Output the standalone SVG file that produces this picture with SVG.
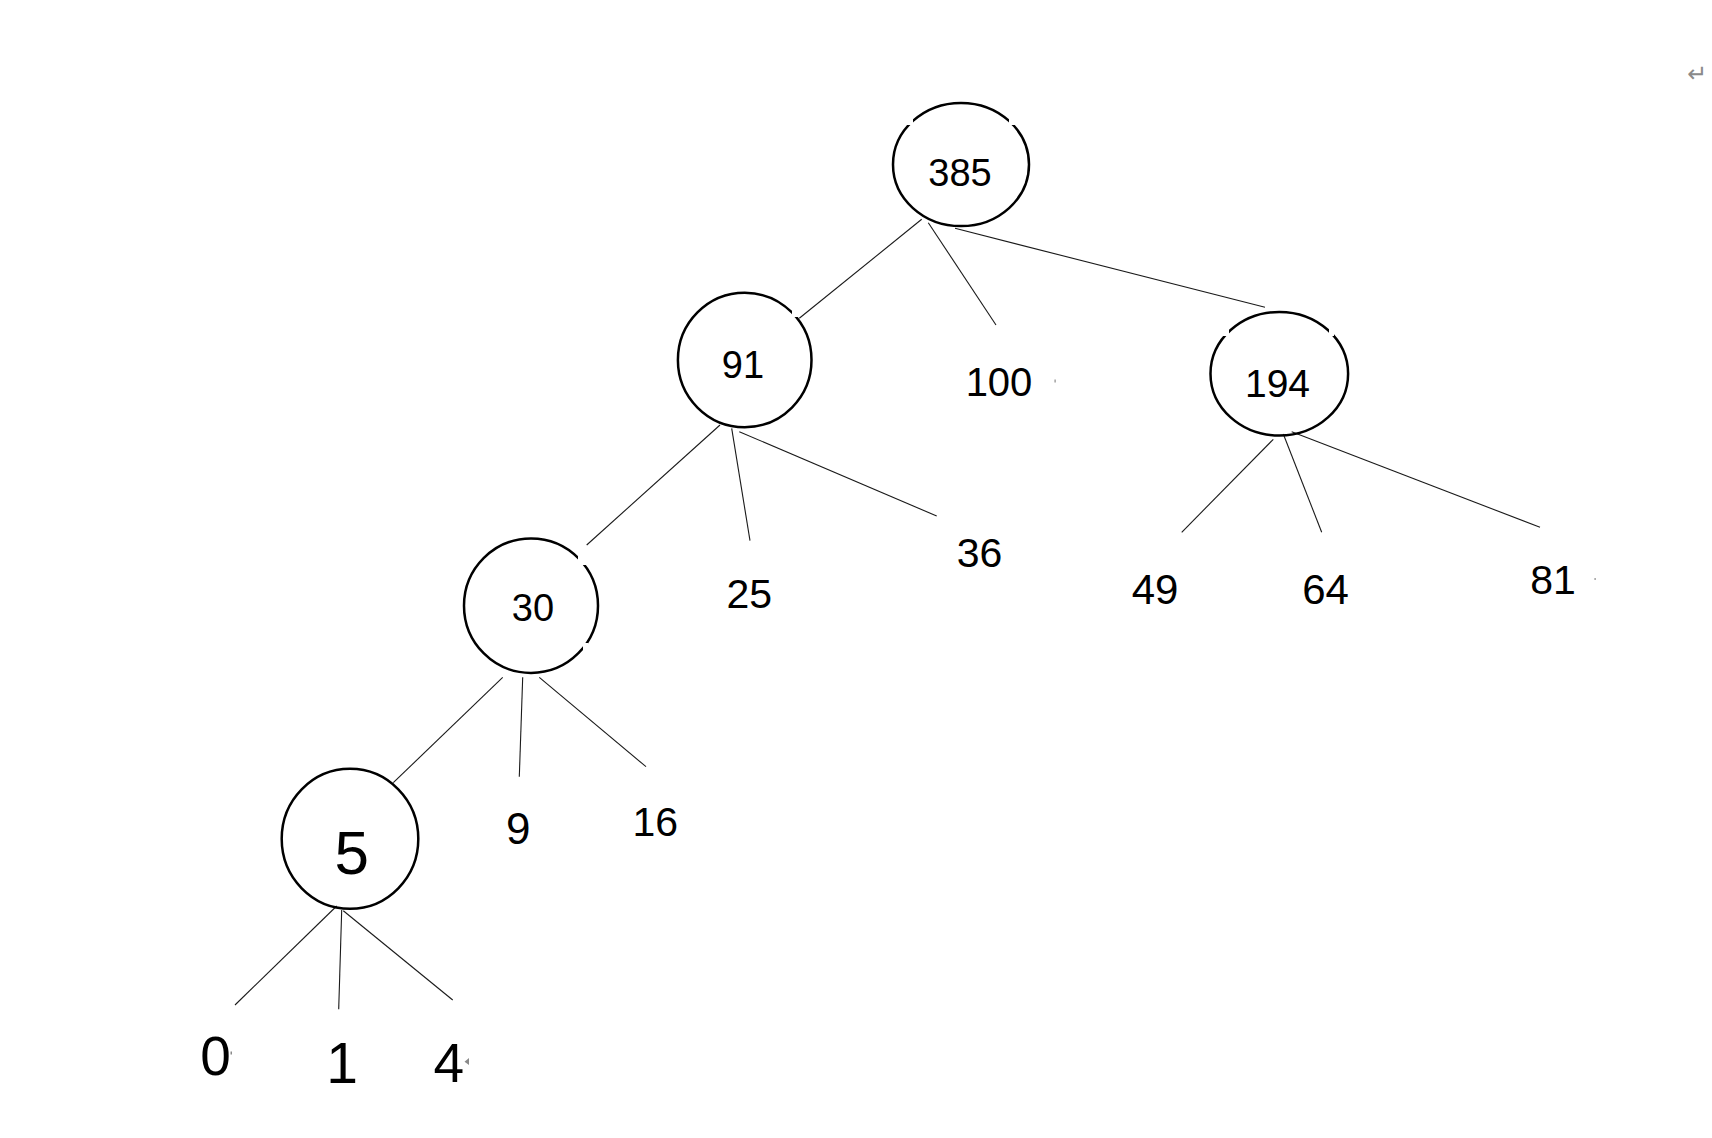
<svg xmlns="http://www.w3.org/2000/svg" width="1712" height="1138" viewBox="0 0 1712 1138">
<style>
.bg{fill:#ffffff}
.node{fill:none;stroke:#000;stroke-width:2.5}
.edge{stroke:#1a1a1a;stroke-width:1.1;fill:none}
.lbl{font-family:"Liberation Sans",Arial,sans-serif;fill:#000;text-anchor:middle}
.gap{fill:#fff}
.mark{fill:#8a8a8a}
</style>
<rect class="bg" x="0" y="0" width="1712" height="1138"/>
<g id="connectors">
<line class="edge" x1="921.7" y1="219.3" x2="799.3" y2="318.3"/>
<line class="edge" x1="928.3" y1="222.7" x2="996" y2="325"/>
<line class="edge" x1="955" y1="228.3" x2="1265" y2="307.3"/>
<line class="edge" x1="720" y1="425" x2="586.7" y2="545"/>
<line class="edge" x1="731.7" y1="428.3" x2="750" y2="540.7"/>
<line class="edge" x1="739.3" y1="431.7" x2="936.7" y2="516"/>
<line class="edge" x1="1273.3" y1="439.3" x2="1181.7" y2="532.3"/>
<line class="edge" x1="1283.3" y1="434" x2="1321.7" y2="532.3"/>
<line class="edge" x1="1291.7" y1="431.7" x2="1540" y2="527.3"/>
<line class="edge" x1="502.7" y1="677.3" x2="393.3" y2="782.7"/>
<line class="edge" x1="522.7" y1="677.3" x2="519.3" y2="776.7"/>
<line class="edge" x1="539.3" y1="677.3" x2="646" y2="766.7"/>
<line class="edge" x1="336.7" y1="906" x2="235" y2="1005"/>
<line class="edge" x1="341.7" y1="910" x2="338.7" y2="1009.3"/>
<line class="edge" x1="343.3" y1="910.7" x2="452.7" y2="1000"/>
</g>
<g id="n385">
<ellipse class="node" cx="961" cy="164.5" rx="68" ry="61.6"/>
<rect class="gap" x="907" y="117" width="6" height="8"/>
<rect class="gap" x="1009" y="117" width="6" height="8"/>
<text class="lbl" x="960" y="186" font-size="38">385</text>
</g>
<g id="n91">
<ellipse class="node" cx="744.7" cy="360" rx="66.8" ry="67.2"/>
<rect class="gap" x="792" y="309" width="7" height="8"/>
<text class="lbl" x="743" y="377.7" font-size="38">91</text>
</g>
<g id="n100">
<text class="lbl" x="999" y="396" font-size="40">100</text>
<rect class="mark" x="1054.5" y="379.5" width="1.2" height="3"/>
</g>
<g id="n194">
<ellipse class="node" cx="1279.3" cy="373.7" rx="68.8" ry="61.8"/>
<rect class="gap" x="1223" y="329" width="6" height="7"/>
<rect class="gap" x="1329" y="329" width="5" height="7"/>
<text class="lbl" x="1277.5" y="397.3" font-size="39">194</text>
</g>
<g id="n30">
<ellipse class="node" cx="531" cy="605.7" rx="67" ry="67.2"/>
<rect class="gap" x="578" y="555" width="9" height="10"/>
<rect class="gap" x="583" y="643" width="5" height="10"/>
<text class="lbl" x="533" y="620.7" font-size="38">30</text>
</g>
<g id="n25">
<text class="lbl" x="749.2" y="608.3" font-size="41">25</text>
</g>
<g id="n36">
<text class="lbl" x="979.5" y="567.3" font-size="41">36</text>
</g>
<g id="n49">
<text class="lbl" x="1155" y="604" font-size="42">49</text>
</g>
<g id="n64">
<text class="lbl" x="1325.5" y="604" font-size="42">64</text>
</g>
<g id="n81">
<text class="lbl" x="1553" y="594" font-size="41">81</text>
<rect class="mark" x="1594.5" y="578" width="1.2" height="2"/>
</g>
<g id="n5">
<ellipse class="node" cx="350" cy="838.8" rx="68.3" ry="70"/>
<text class="lbl" x="351.7" y="874" font-size="62">5</text>
</g>
<g id="n9">
<text class="lbl" x="518.3" y="844" font-size="44">9</text>
</g>
<g id="n16">
<text class="lbl" x="655.3" y="835.7" font-size="41">16</text>
</g>
<g id="n0">
<text class="lbl" x="215.5" y="1075" font-size="55">0</text>
<rect class="mark" x="230.5" y="1051.5" width="1.5" height="3"/>
</g>
<g id="n1">
<text class="lbl" x="342" y="1083" font-size="57">1</text>
</g>
<g id="n4">
<text class="lbl" x="448.8" y="1082" font-size="55">4</text>
<path class="mark" d="M469,1058 L464.5,1061.7 L469,1065 Z"/>
</g>
<text x="1687" y="82" font-family="DejaVu Sans, sans-serif" font-size="24" fill="#8a8a8a">↵</text>
</svg>
